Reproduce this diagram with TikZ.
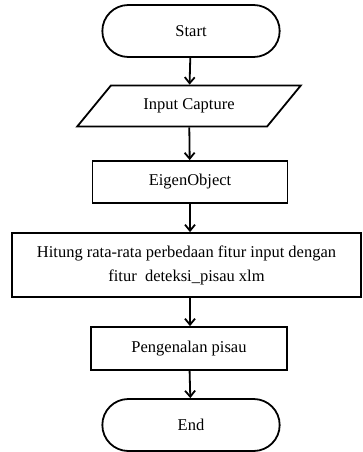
\documentclass[tikz,border=0pt]{standalone}
\usepackage{fontspec}
\setmainfont{Liberation Serif}
\usetikzlibrary{shapes.misc,shapes.geometric,arrows.meta}

\begin{document}
\begin{tikzpicture}[x=1pt,y=1pt,line width=1.8pt,
  font=\fontsize{16.5}{24}\selectfont,
  terminal/.style={draw,rounded rectangle,minimum width=184pt,minimum height=52pt},
  proses/.style={draw,rectangle,minimum height=42pt},
  io/.style={draw,trapezium,trapezium left angle=45,trapezium right angle=135,trapezium stretches=true,minimum width=224pt,minimum height=41pt},
  panah/.style={-{Straight Barb[length=6pt,width=10pt]}}]
\useasboundingbox(0,0)rectangle(362,-452);
\node[terminal](start)at(191,-31){Start};
\node[io](input)at(189,-106){Input Capture};
\node[proses,minimum width=195pt](eigen)at(190,-182){EigenObject};
\node[proses,minimum width=349pt,minimum height=64pt,align=center](hitung)at(186.5,-265){Hitung rata-rata perbedaan fitur input dengan\\fitur\ \ deteksi\_pisau xlm};
\node[proses,minimum width=196pt,minimum height=43pt](kenal)at(189,-348.5){Pengenalan pisau};
\node[terminal](end)at(191,-425){End};
\draw[panah](start)--(input);
\draw[panah](input)--(eigen);
\draw[panah](eigen)--(eigen|-hitung.north);
\draw[panah](eigen|-hitung.south)--(eigen|-kenal.north);
\draw[panah](kenal)--(end);
\end{tikzpicture}
\end{document}
